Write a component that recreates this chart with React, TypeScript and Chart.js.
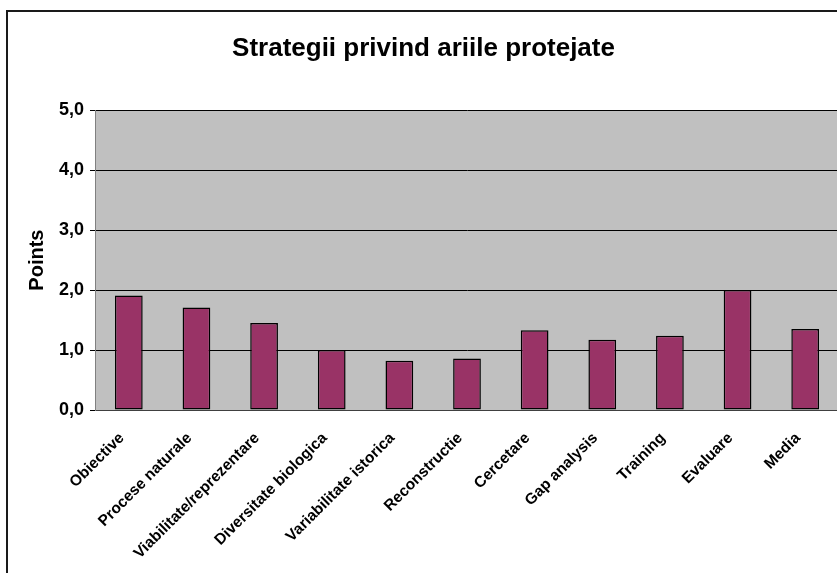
import React, { useEffect, useRef } from 'react';
import { Chart, registerables } from 'chart.js';

Chart.register(...registerables);

const TITLE = 'Strategii privind ariile protejate';
const Y_TITLE = 'Points';
const categories = [
  'Obiective',
  'Procese naturale',
  'Viabilitate/reprezentare',
  'Diversitate biologica',
  'Variabilitate istorica',
  'Reconstructie',
  'Cercetare',
  'Gap analysis',
  'Training',
  'Evaluare',
  'Media',
];
const values = [1.91, 1.71, 1.45, 1.0, 0.82, 0.86, 1.33, 1.17, 1.24, 2.0, 1.35];
const yMin = 0;
const yMax = 5;
const yStep = 1;

const CANVAS_W = 841;
const CANVAS_H = 580;

const plotBg = {
  id: 'plotBg',
  beforeDraw(chart: any) {
    const { ctx, chartArea } = chart;
    if (!chartArea) return;
    ctx.save();
    ctx.fillStyle = '#C0C0C0';
    ctx.fillRect(chartArea.left, chartArea.top, chartArea.right - chartArea.left, chartArea.bottom - chartArea.top);
    ctx.restore();
  },
};

export default function App() {
  const ref = useRef<HTMLCanvasElement | null>(null);

  useEffect(() => {
    if (!ref.current) return;
    const chart = new Chart(ref.current, {
      type: 'bar',
      data: {
        labels: categories,
        datasets: [
          {
            data: values,
            backgroundColor: '#993366',
            borderColor: '#000000',
            borderWidth: 1.5,
            borderSkipped: false,
            barPercentage: 0.41,
            categoryPercentage: 1,
          },
        ],
      },
      options: {
        responsive: false,
        animation: false,
        layout: { padding: { left: 0, right: 10, top: 0, bottom: 0 } },
        plugins: {
          legend: { display: false },
          tooltip: { enabled: false },
          title: {
            display: true,
            text: TITLE,
            color: '#000',
            font: { family: 'Liberation Sans, Arial, sans-serif', size: 26, weight: 'bold' },
            padding: { top: 21, bottom: 46 },
          },
        },
        scales: {
          x: {
            grid: { display: false, drawTicks: false },
            border: { display: true, color: '#404040', width: 1 },
            ticks: {
              color: '#000',
              minRotation: 45,
              maxRotation: 45,
              autoSkip: false,
              padding: 19,
              labelOffset: -7,
              font: { family: 'Liberation Sans, Arial, sans-serif', size: 15.5, weight: 'bold' },
            },
            afterFit(scale: any) {
              scale.height = 182;
            },
          },
          y: {
            min: yMin,
            max: yMax,
            grid: { color: '#000000', lineWidth: 1, tickLength: 5, drawTicks: true },
            border: { display: true, color: '#808080', width: 1 },
            ticks: {
              stepSize: yStep,
              color: '#000',
              padding: 6,
              font: { family: 'Liberation Sans, Arial, sans-serif', size: 18, weight: 'bold' },
              callback: (v: any) => Number(v).toFixed(1).replace('.', ','),
            },
            title: {
              display: true,
              text: Y_TITLE,
              color: '#000',
              padding: { top: 17, bottom: 0 },
              font: { family: 'Liberation Sans, Arial, sans-serif', size: 20, weight: 'bold' },
            },
            afterFit(scale: any) {
              scale.width = 87;
            },
          },
        },
      },
      plugins: [plotBg],
    });
    return () => chart.destroy();
  }, []);

  return (
    <div style={{ position: 'fixed', inset: 0, overflow: 'hidden', background: '#fff' }}>
      <div
        style={{
          position: 'absolute',
          left: 6,
          top: 10,
          width: 900,
          height: 700,
          border: '2px solid #1a1a1a',
        }}
      >
        <canvas
          ref={ref}
          width={CANVAS_W}
          height={CANVAS_H}
          style={{ display: 'block', width: CANVAS_W, height: CANVAS_H }}
        />
      </div>
    </div>
  );
}
